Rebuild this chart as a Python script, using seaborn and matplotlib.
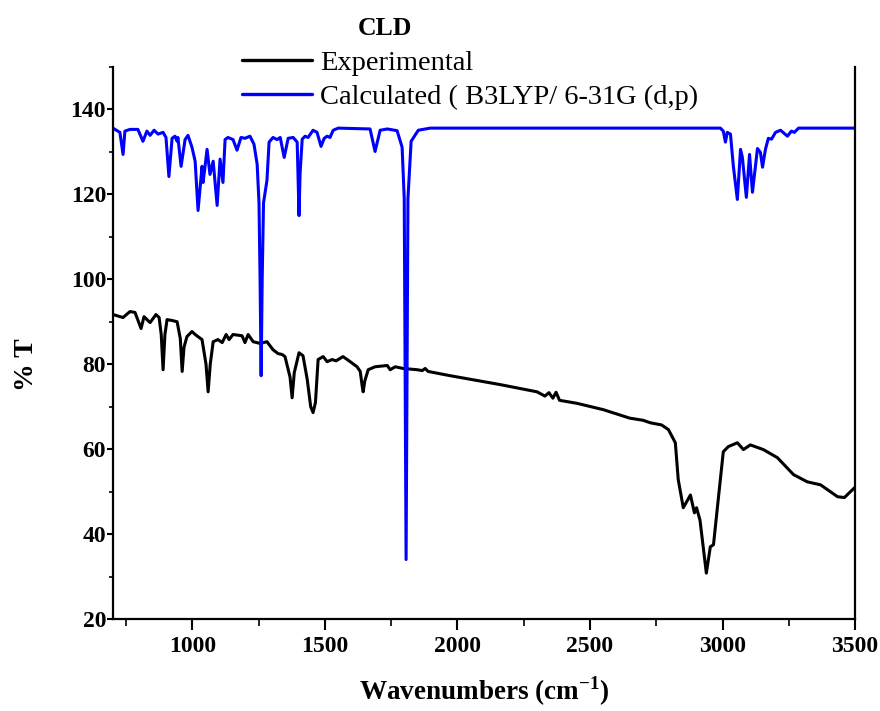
import numpy as np
import pandas as pd
import matplotlib
matplotlib.use("Agg")
import matplotlib.pyplot as plt
from matplotlib.ticker import MultipleLocator
from matplotlib.lines import Line2D
import seaborn as sns

# ---------------- data ----------------
exp_wn = [700, 738, 764, 783, 806, 817, 840, 862, 874, 882, 889, 896, 904, 923, 942, 954, 961, 968,
          979, 998, 1010, 1036, 1051, 1059, 1067, 1078, 1096, 1112, 1127, 1138, 1153, 1187, 1198,
          1210, 1229, 1255, 1281, 1304, 1323, 1338, 1349, 1368, 1376, 1384, 1402, 1417, 1433,
          1446, 1455, 1464, 1474, 1493, 1508, 1527, 1542, 1568, 1595, 1621, 1633, 1640, 1644,
          1650, 1663, 1689, 1735, 1746, 1765, 1795, 1848, 1867, 1878, 1889, 1972, 2161, 2300,
          2330, 2345, 2360, 2372, 2385, 2450, 2550, 2650, 2700, 2728, 2770, 2796, 2822, 2833,
          2852, 2879, 2894, 2902, 2915, 2939, 2954, 2966, 2985, 3003, 3022, 3056, 3079, 3105,
          3154, 3207, 3268, 3320, 3370, 3434, 3460, 3498]
exp_t = [91.7, 91.0, 92.4, 92.2, 88.4, 91.2, 89.8, 91.7, 91.0, 87.0, 78.7, 87.0, 90.5, 90.3, 90.0,
         86.0, 78.3, 84.0, 86.5, 87.7, 87.0, 85.8, 80.0, 73.5, 80.0, 85.3, 85.8, 85.1, 87.0, 85.8,
         87.0, 86.7, 85.1, 87.0, 85.3, 84.9, 85.3, 83.4, 82.5, 82.3, 81.8, 77.0, 72.1, 78.0, 82.7,
         82.0, 76.4, 70.0, 68.6, 71.0, 81.1, 81.8, 80.6, 81.1, 80.8, 81.8, 80.6, 79.4, 78.3, 75.0,
         73.5, 76.0, 78.7, 79.4, 79.7, 78.7, 79.4, 79.0, 78.7, 78.5, 79.0, 78.3, 77.3, 75.2, 73.5,
         72.5, 73.3, 72.0, 73.4, 71.5, 70.8, 69.3, 67.3, 66.8, 66.2, 65.7, 64.6, 61.5, 52.8,
         46.2, 49.2, 45.0, 46.2, 43.3, 30.8, 37.0, 37.5, 48.8, 59.4, 60.6, 61.5, 59.9, 61.0,
         59.9, 58.0, 54.0, 52.3, 51.6, 48.8, 48.6, 50.9]

calc_wn = [700, 726, 738, 745, 764, 794, 813, 828, 840, 855, 870, 889, 900, 911, 923, 934, 942,
           945, 957, 972, 983, 998, 1010, 1021, 1036, 1040, 1055, 1066, 1078, 1093, 1104, 1115,
           1123, 1134, 1153, 1168, 1183, 1198, 1217, 1232, 1244, 1251, 1255, 1259, 1263, 1268,
           1281, 1289, 1304, 1319, 1331, 1346, 1361, 1380, 1395, 1398, 1402, 1406, 1414, 1425,
           1436, 1455, 1470, 1485, 1497, 1508, 1519, 1531, 1550, 1670, 1689, 1708, 1735, 1772,
           1791, 1799, 1806, 1813, 1825, 1852, 1897, 2000, 2500, 2992, 3003, 3011, 3018, 3030,
           3041, 3056, 3068, 3075, 3090, 3102, 3113, 3132, 3143, 3151, 3162, 3173, 3185, 3200,
           3219, 3245, 3260, 3271, 3287, 3500]
calc_t = [135.6, 134.6, 129.4, 134.9, 135.3, 135.3, 132.5, 134.9, 133.9, 135.1, 134.2, 134.6,
          133.4, 124.2, 133.2, 133.7, 132.5, 133.4, 126.6, 132.9, 133.9, 131.1, 127.8, 116.2,
          126.6, 122.8, 130.6, 124.7, 127.8, 117.4, 128.3, 122.8, 132.9, 133.4, 132.9, 130.4,
          133.4, 133.2, 133.7, 131.8, 127.1, 118.0, 100.0, 77.3, 100.0, 118.0, 123.3, 132.3,
          133.4, 132.9, 133.4, 128.7, 133.2, 133.4, 132.3, 125.0, 115.0, 125.0, 133.0, 133.7,
          133.4, 135.1, 134.6, 131.3, 133.2, 133.7, 133.4, 135.1, 135.6, 135.4, 130.1, 135.1,
          135.4, 135.0, 131.1, 119.0, 34.0, 119.0, 132.5, 135.1, 135.6, 135.6, 135.6, 135.6,
          134.9, 132.3, 134.6, 134.2, 126.6, 118.8, 130.6, 128.7, 119.3, 129.4, 120.5, 130.8,
          129.9, 126.4, 130.6, 133.2, 133.0, 134.6, 135.1, 133.7, 134.9, 134.6, 135.6, 135.6]

series_names = ["Experimental", "Calculated ( B3LYP/ 6-31G (d,p)"]
series_colors = ["#000000", "#0000ff"]

df = pd.concat([
    pd.DataFrame({"wn": exp_wn, "T": exp_t, "series": series_names[0]}),
    pd.DataFrame({"wn": calc_wn, "T": calc_t, "series": series_names[1]}),
], ignore_index=True)

# ---------------- plotting ----------------
sns.set_theme(style="ticks")
plt.rcParams["font.family"] = ["Liberation Serif", "DejaVu Serif"]
plt.rcParams["text.color"] = "black"
plt.rcParams["axes.labelcolor"] = "black"
plt.rcParams["xtick.color"] = "black"
plt.rcParams["ytick.color"] = "black"
plt.rcParams["mathtext.fontset"] = "custom"
plt.rcParams["mathtext.rm"] = "Liberation Serif"
plt.rcParams["mathtext.bf"] = "Liberation Serif:bold"

fig = plt.figure(figsize=(8.8, 7.11), dpi=100)
ax = fig.add_axes([0.1284, 0.1294, 0.9716 - 0.1284, 0.9058 - 0.1294])

sns.lineplot(data=df, x="wn", y="T", hue="series", hue_order=series_names,
             palette=dict(zip(series_names, series_colors)), estimator=None,
             sort=False, linewidth=2.2, ax=ax, legend=False)

ax.set_xlim(700, 3500)
ax.set_ylim(20, 150)
ax.xaxis.set_major_locator(MultipleLocator(500))
ax.xaxis.set_minor_locator(MultipleLocator(250))
ax.yaxis.set_major_locator(MultipleLocator(20))
ax.yaxis.set_minor_locator(MultipleLocator(10))
ax.tick_params(which="both", direction="out", labelsize=17)
ax.tick_params(axis="y", which="major", length=4.5, width=1.5, pad=0.5)
ax.tick_params(axis="y", which="minor", length=3, width=1.2)
ax.tick_params(axis="x", which="major", length=8, width=1.5, pad=4)
ax.tick_params(axis="x", which="minor", length=5, width=1.2)
for lab in ax.get_xticklabels() + ax.get_yticklabels():
    lab.set_fontweight("bold")

for side in ["left", "right", "bottom"]:
    ax.spines[side].set_linewidth(1.6)
    ax.spines[side].set_color("black")
ax.spines["top"].set_visible(False)

ax.set_xlabel("Wavenumbers (cm$^{\\mathbf{-1}}$)", fontsize=19.5, fontweight="bold", labelpad=13)
ax.set_ylabel("% T", fontsize=20, fontweight="bold")
ax.yaxis.set_label_coords(-0.100, 0.46)

handles = [Line2D([], [], color=c, lw=2.4) for c in series_colors]
fig.legend(handles, series_names, loc="upper left", bbox_to_anchor=(0.262, 0.946),
           frameon=False, fontsize=20.5, handlelength=2.45, handletextpad=0.28,
           labelspacing=0.3, borderaxespad=0)
fig.text(0.4375, 0.96, "CLD", fontsize=18.5, fontweight="bold", ha="center", va="center")

fig.savefig("out.png", dpi=100)
